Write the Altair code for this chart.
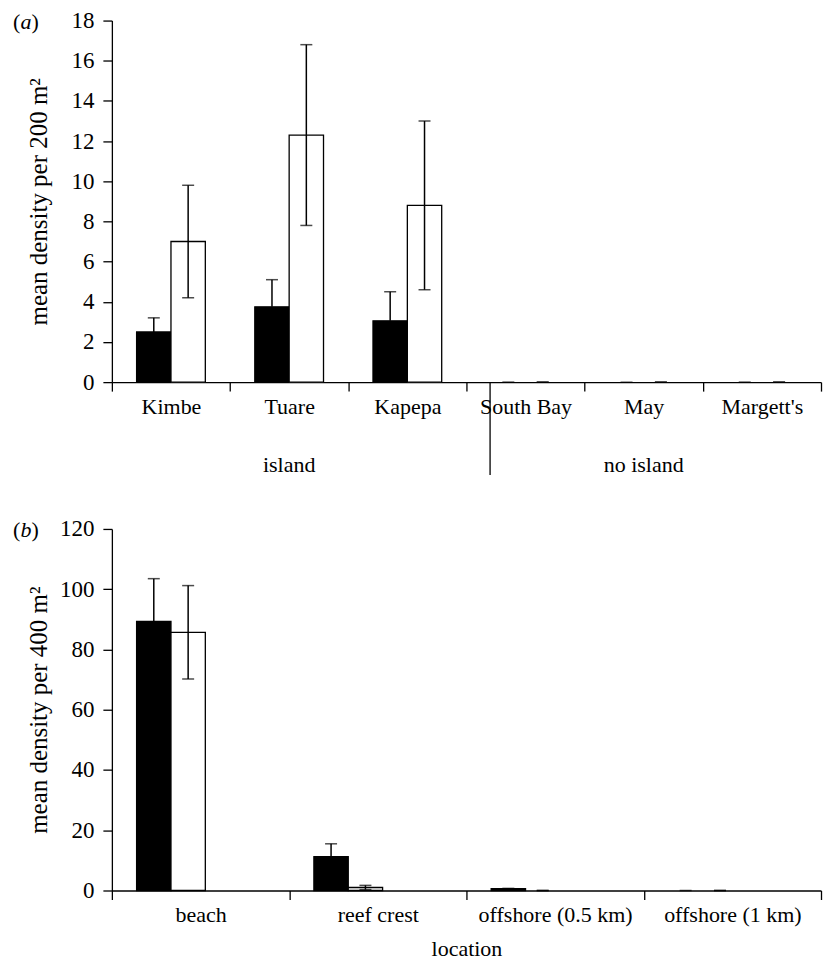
import altair as alt
import pandas as pd

# ---------------- data ----------------
sites_a = ["Kimbe", "Tuare", "Kapepa", "South Bay", "May", "Margett's"]
black_a = [2.5, 3.75, 3.05, 0.0, 0.0, 0.0]
black_se_a = [0.7, 1.35, 1.45, 0.0, 0.0, 0.0]
white_a = [7.0, 12.3, 8.8, 0.0, 0.0, 0.0]
white_se_a = [2.8, 4.5, 4.2, 0.0, 0.0, 0.0]
group_labels_a = ["island", "no island"]
group_anchor_a = ["Tuare", "May"]
separator_site_a = ["South Bay"]

locations_b = ["beach", "reef crest", "offshore (0.5 km)", "offshore (1 km)"]
black_b = [89.3, 11.2, 0.6, 0.0]
black_se_b = [14.2, 4.3, 0.1, 0.0]
white_b = [85.7, 1.0, 0.0, 0.0]
white_se_b = [15.5, 0.7, 0.0, 0.0]

yticks_a = [0, 2, 4, 6, 8, 10, 12, 14, 16, 18]
yticks_b = [0, 20, 40, 60, 80, 100, 120]

FONT = "Liberation Serif"
FS = 22       # category labels / texts
FS_TICK = 23  # y tick labels
FS_TITLE = 25
W = 710
H = 362


def long_table(sites, b, bse, w, wse):
    rows = []
    for i, s in enumerate(sites):
        rows.append({"loc": s, "grp": "black", "mean": b[i], "lo": b[i], "hi": b[i] + bse[i]})
        rows.append({"loc": s, "grp": "white", "mean": w[i], "lo": w[i] - wse[i], "hi": w[i] + wse[i]})
    return pd.DataFrame(rows)


def letter_layers(letter):
    parts = [("(", -99, "normal"), (letter, -91.5, "italic"), (")", -80.5, "normal")]
    out = []
    for txt, xpx, style in parts:
        out.append(
            alt.Chart(pd.DataFrame({"t": [txt]}))
            .mark_text(align="left", baseline="alphabetic", fontSize=FS, font=FONT, fontStyle=style, color="black")
            .encode(x=alt.value(xpx), y=alt.value(8), text="t:N")
        )
    return out


def panel(df, sites, ymax, yvals, ytitle, xtitle, letter, extra=None):
    if xtitle is None:
        xaxis = alt.Axis(labelAngle=0, tickBand="extent", labelPadding=5, title="",
                         labelFontSize=FS, labelFont=FONT)
    else:
        xaxis = alt.Axis(labelAngle=0, tickBand="extent", labelPadding=5, title=xtitle,
                         titlePadding=13, labelFontSize=FS, titleFontSize=FS,
                         labelFont=FONT, titleFont=FONT)
    xenc = alt.X("loc:N", sort=sites,
                 scale=alt.Scale(domain=sites, paddingInner=0, paddingOuter=0),
                 axis=xaxis)
    xoff = alt.XOffset("grp:N", scale=alt.Scale(domain=["black", "white"], paddingOuter=0.72, paddingInner=0))
    yscale = alt.Scale(domain=[0, ymax], nice=False)
    yaxis = alt.Axis(values=yvals, title=ytitle, grid=False,
                     titleX=-73, titleY=H / 2, titleAngle=270,
                     titleBaseline="middle", titleAlign="center",
                     labelPadding=9, labelFontSize=FS_TICK, titleFontSize=FS_TITLE,
                     labelFont=FONT, titleFont=FONT)
    base = alt.Chart(df).encode(x=xenc, xOffset=xoff)
    bars = base.mark_bar(strokeWidth=1.3).encode(
        y=alt.Y("mean:Q", scale=yscale, axis=yaxis, title=ytitle),
        color=alt.Color("grp:N", scale=alt.Scale(domain=["black", "white"], range=["black", "white"]), legend=None),
        stroke=alt.condition("datum.mean > 0", alt.value("black"), alt.value("transparent")),
    )
    rules = base.mark_rule(strokeWidth=1.5, color="black").encode(
        y=alt.Y("lo:Q", scale=yscale, axis=yaxis, title=ytitle), y2="hi:Q")
    caps_hi = base.mark_tick(size=12, thickness=1.5, color="black").encode(
        y=alt.Y("hi:Q", scale=yscale, axis=yaxis, title=ytitle))
    caps_lo = base.transform_filter("datum.grp == 'white'").mark_tick(size=12, thickness=1.5, color="black").encode(
        y=alt.Y("lo:Q", scale=yscale, axis=yaxis, title=ytitle))
    layers = [bars, rules, caps_hi, caps_lo] + (extra or []) + letter_layers(letter)
    return alt.layer(*layers).properties(width=W, height=H)


df_a = long_table(sites_a, black_a, black_se_a, white_a, white_se_a)
df_b = long_table(locations_b, black_b, black_se_b, white_b, white_se_b)

grp_text = alt.Chart(pd.DataFrame({"loc": group_anchor_a, "label": group_labels_a})).mark_text(
    fontSize=FS, font=FONT, baseline="middle", color="black"
).encode(x=alt.X("loc:N", sort=sites_a), y=alt.value(H + 83), text="label:N")

sep_rule = alt.Chart(pd.DataFrame({"loc": separator_site_a})).mark_rule(
    strokeWidth=1.3, color="black"
).encode(x=alt.X("loc:N", sort=sites_a, bandPosition=0.2), y=alt.value(H), y2=alt.value(H + 93))

panel_a = panel(df_a, sites_a, 18, yticks_a, "mean density per 200 m²", None, "a",
                extra=[grp_text, sep_rule])
panel_b = panel(df_b, locations_b, 120, yticks_b, "mean density per 400 m²", "location", "b")

chart = (
    alt.vconcat(panel_a, panel_b, spacing=40)
    .properties(padding={"left": 4, "top": 0, "right": 0, "bottom": 0})
    .configure_axis(
        domainColor="black", tickColor="black", labelColor="black", titleColor="black",
        domainWidth=1.3, tickWidth=1.3, tickSize=9,
        titleFontWeight="normal",
    )
    .configure_view(stroke="transparent")
)

chart.save("out.html", embed_options={"renderer": "svg", "actions": False})
